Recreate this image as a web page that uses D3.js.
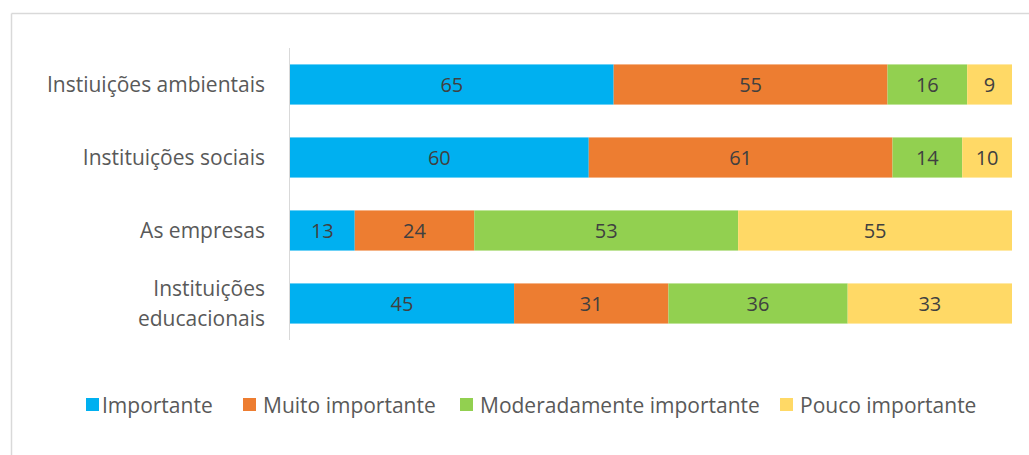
<!DOCTYPE html>
<html>
<head>
<meta charset="utf-8">
<script src="https://cdn.jsdelivr.net/npm/d3@7"></script>
<style>
  html, body { margin: 0; padding: 0; background: #fff; }
  svg { display: block; }
  text { font-family: "Open Sans", "Noto Sans", sans-serif; }
</style>
</head>
<body>
<svg id="chart" width="1029" height="455"></svg>
<script>
// Categories (top to bottom) and their wrapped label lines
const categories = ["Instiuições ambientais", "Instituições sociais", "As empresas", "Instituições educacionais"];
const categoryLines = [["Instiuições ambientais"], ["Instituições sociais"], ["As empresas"], ["Instituições", "educacionais"]];

// Series in stacking order
const seriesNames = ["Importante", "Muito importante", "Moderadamente importante", "Pouco importante"];
const importante = [65, 60, 13, 45];
const muitoImportante = [55, 61, 24, 31];
const moderadamente = [16, 14, 53, 36];
const poucoImportante = [9, 10, 55, 33];
const seriesColors = ["#00b0f0", "#ed7d31", "#92d050", "#ffd966"];

const rows = categories.map((c, i) => ({
  category: c,
  "Importante": importante[i],
  "Muito importante": muitoImportante[i],
  "Moderadamente importante": moderadamente[i],
  "Pouco importante": poucoImportante[i]
}));

const svg = d3.select("#chart");
const W = 1029, H = 455;

// Outer frame (top and left edges)
svg.append("line").attr("x1", 11.5).attr("x2", W).attr("y1", 13.5).attr("y2", 13.5)
  .attr("stroke", "#d9d9d9").attr("stroke-width", 1.5);
svg.append("line").attr("x1", 11.5).attr("x2", 11.5).attr("y1", 13.5).attr("y2", H)
  .attr("stroke", "#d9d9d9").attr("stroke-width", 1.5);

const plot = { left: 290, right: 1012, top: 48, bottom: 340 };

const stack = d3.stack().keys(seriesNames).offset(d3.stackOffsetExpand);
const stacked = stack(rows);

const x = d3.scaleLinear().domain([0, 1]).range([plot.left, plot.right]);
const y = d3.scaleBand().domain(categories).range([plot.top, plot.bottom])
  .paddingInner(0.45).paddingOuter(0.225);
const color = d3.scaleOrdinal().domain(seriesNames).range(seriesColors);

// Category axis line
svg.append("line").attr("x1", plot.left - 0.5).attr("x2", plot.left - 0.5)
  .attr("y1", plot.top).attr("y2", plot.bottom)
  .attr("stroke", "#d9d9d9").attr("stroke-width", 1);

// Stacked bars
const layers = svg.append("g").selectAll("g").data(stacked).join("g")
  .attr("fill", d => color(d.key));

layers.selectAll("rect").data(d => d).join("rect")
  .attr("x", d => x(d[0]))
  .attr("width", d => x(d[1]) - x(d[0]))
  .attr("y", d => y(d.data.category))
  .attr("height", y.bandwidth());

// Value labels centred in each segment
layers.each(function(layer) {
  d3.select(this).selectAll("text").data(layer).join("text")
    .attr("x", d => (x(d[0]) + x(d[1])) / 2)
    .attr("y", d => y(d.data.category) + y.bandwidth() / 2)
    .attr("dy", "0.35em")
    .attr("text-anchor", "middle")
    .attr("font-size", 20)
    .attr("fill", "#404040")
    .text(d => d.data[layer.key]);
});

// Category labels
const catG = svg.append("g");
categories.forEach((c, i) => {
  const lines = categoryLines[i];
  const cy = y(c) + y.bandwidth() / 2;
  const lh = 30;
  const t = catG.append("text")
    .attr("text-anchor", "end")
    .attr("font-size", 21)
    .attr("fill", "#595959");
  lines.forEach((ln, k) => {
    t.append("tspan")
      .attr("x", 265)
      .attr("y", cy + (k - (lines.length - 1) / 2) * lh)
      .attr("dy", "0.35em")
      .text(ln);
  });
});

// Legend
const legendX = [86, 243, 460, 780];
const legend = svg.append("g");
seriesNames.forEach((s, i) => {
  const g = legend.append("g").attr("transform", `translate(${legendX[i]},405)`);
  g.append("rect").attr("x", 0).attr("y", -7).attr("width", 13).attr("height", 13)
    .attr("fill", color(s));
  g.append("text").attr("x", i === 0 ? 16 : 20).attr("y", 1).attr("dy", "0.35em")
    .attr("font-size", 21).attr("fill", "#595959").text(s);
});
</script>
</body>
</html>
